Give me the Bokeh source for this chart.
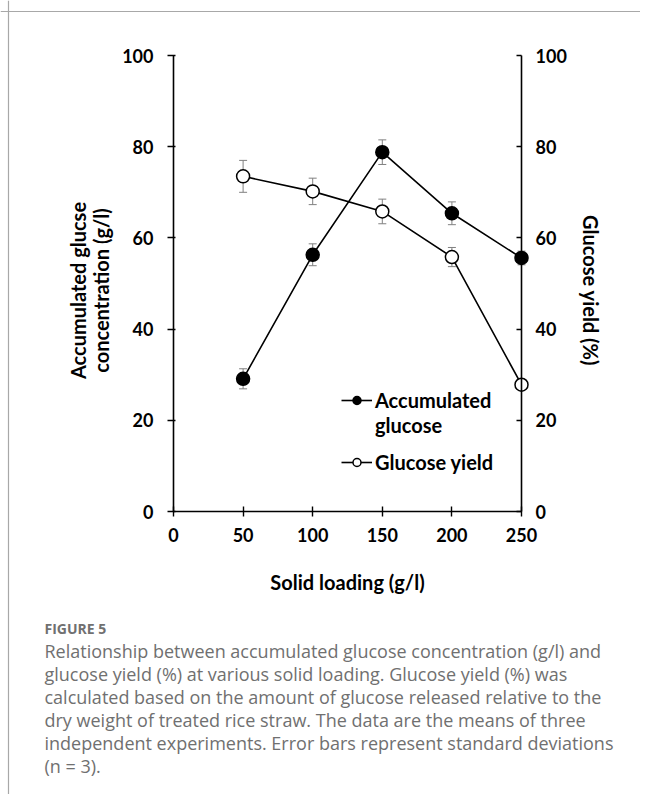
import math
from bokeh.plotting import figure
from bokeh.models import (Range1d, LinearAxis, ColumnDataSource, Whisker, TeeHead,
                          Legend, LegendItem, Label, Span, FixedTicker)
from bokeh.embed import file_html
from bokeh.resources import INLINE

# ---------------- data ----------------
solid_loading = [50, 100, 150, 200, 250]
acc_glucose = [29.1, 56.3, 78.8, 65.4, 55.6]
acc_glucose_sd = [2.2, 2.4, 2.7, 2.5, 1.5]
glucose_yield = [73.5, 70.2, 65.8, 55.8, 27.8]
glucose_yield_sd = [3.5, 2.9, 2.7, 2.1, 1.0]
x_ticks = [0, 50, 100, 150, 200, 250]
y_ticks = [0, 20, 40, 60, 80, 100]
x_lim = (0, 250)
y_lim = (0, 100)

caption_head = "FIGURE 5"
caption_lines = [
    "Relationship between accumulated glucose concentration (g/l) and",
    "glucose yield (%) at various solid loading. Glucose yield (%) was",
    "calculated based on the amount of glucose released relative to the",
    "dry weight of treated rice straw. The data are the means of three",
    "independent experiments. Error bars represent standard deviations",
    "(n = 3).",
]

FONT = "Lato"
W, H = 640, 794
# where the plotting area sits on the canvas (px)
AX_L, AX_R, AX_T, AX_B = 173, 521, 55, 511

# ranges chosen so the whole canvas is the frame (so that texts are not clipped)
sx = (AX_R - AX_L) / (x_lim[1] - x_lim[0])
sy = (AX_B - AX_T) / (y_lim[1] - y_lim[0])
xr = Range1d(x_lim[0] - AX_L / sx, x_lim[1] + (W - AX_R) / sx)
yr_ = Range1d(y_lim[0] - (H - AX_B) / sy, y_lim[1] + AX_T / sy)

p = figure(width=W, height=H, output_backend="svg", toolbar_location=None,
           x_range=xr, y_range=yr_, min_border=0,
           background_fill_color="white", border_fill_color="white")
p.title.visible = False
p.outline_line_color = None
p.grid.visible = False
p.extra_y_ranges = {"yield": Range1d(yr_.start, yr_.end)}

src_a = ColumnDataSource(dict(x=solid_loading, y=acc_glucose,
                              lo=[v - s for v, s in zip(acc_glucose, acc_glucose_sd)],
                              hi=[v + s for v, s in zip(acc_glucose, acc_glucose_sd)]))
src_y = ColumnDataSource(dict(x=solid_loading, y=glucose_yield,
                              lo=[v - s for v, s in zip(glucose_yield, glucose_yield_sd)],
                              hi=[v + s for v, s in zip(glucose_yield, glucose_yield_sd)]))

# error bars
for src, rng in ((src_a, "default"), (src_y, "yield")):
    w = Whisker(source=src, base="x", lower="lo", upper="hi",
                line_color="#808080", line_width=1, level="underlay",
                y_range_name=rng,
                upper_head=TeeHead(size=8, line_color="#808080", line_width=1),
                lower_head=TeeHead(size=8, line_color="#808080", line_width=1))
    p.add_layout(w)

la = p.line("x", "y", source=src_a, line_color="black", line_width=1.6)
sa = p.scatter("x", "y", source=src_a, size=13, fill_color="black",
               line_color="black", line_width=1.5)
ly = p.line("x", "y", source=src_y, line_color="black", line_width=1.6,
            y_range_name="yield")
sy_ = p.scatter("x", "y", source=src_y, size=13, fill_color="white",
                line_color="black", line_width=1.5, y_range_name="yield")
# invisible renderer used only as a placeholder for the legend's second text line
blank = p.line(x=[], y=[], line_alpha=0)

def style_axis(ax, tin, tout, standoff):
    ax.axis_line_color = "black"
    ax.axis_line_width = 1.6
    ax.major_tick_line_color = "black"
    ax.major_tick_line_width = 1.4
    ax.major_tick_in = tin
    ax.major_tick_out = tout
    ax.minor_tick_line_color = None
    ax.major_label_text_font = FONT
    ax.major_label_text_font_style = "bold"
    ax.major_label_text_font_size = "18px"
    ax.major_label_text_color = "black"
    ax.major_label_standoff = standoff

xa = p.xaxis[0]
xa.ticker = FixedTicker(ticks=x_ticks)
xa.fixed_location = y_lim[0]
xa.bounds = x_lim
style_axis(xa, 5, 5, 11)

ya = p.yaxis[0]
ya.ticker = FixedTicker(ticks=y_ticks)
ya.fixed_location = x_lim[0]
ya.bounds = y_lim
style_axis(ya, 2, 6, 14)

ry = LinearAxis(y_range_name="yield", ticker=FixedTicker(ticks=y_ticks),
                fixed_location=x_lim[1], bounds=y_lim)
style_axis(ry, 5, 0, 14)
p.add_layout(ry, "right")

def lab(text, px, py, **kw):
    opts = dict(x=px, y=py, x_units="canvas", y_units="canvas", text=text,
                text_baseline="middle")
    opts.update(kw)
    p.add_layout(Label(**opts))

title_kw = dict(text_font=FONT, text_font_style="bold", text_font_size="20px",
                text_color="black", text_align="center")
lab("Solid loading (g/l)", (AX_L + AX_R) / 2, 581, **title_kw)
lab("Glucose yield (%)", 590, 290, angle=-math.pi / 2, **title_kw)
lab("Accumulated glucse", 77, 290, angle=math.pi / 2, **title_kw)
lab("concentration (g/l)", 100, 290, angle=math.pi / 2, **title_kw)

# legends
leg_style = dict(orientation="vertical", label_text_font=FONT,
                 label_text_font_style="bold", label_text_font_size="20px",
                 label_text_color="black", glyph_width=31, glyph_height=20,
                 label_height=20, label_standoff=3, spacing=1, padding=0, margin=0,
                 border_line_alpha=0, background_fill_alpha=0)
leg1 = Legend(items=[LegendItem(label="Accumulated", renderers=[la, sa]),
                     LegendItem(label="glucose", renderers=[blank])],
              location=(341, H - 437), **leg_style)
leg2 = Legend(items=[LegendItem(label="Glucose yield", renderers=[ly, sy_])],
              location=(341, H - 474), **leg_style)
p.add_layout(leg1)
p.add_layout(leg2)

# grey border of the figure panel (left and top edges), placed by pixel offsets
border_x = xr.start + 8 / sx
border_y = yr_.end - 11 / sy
p.add_layout(Span(location=border_x, dimension="height", line_color="#a8a8a8",
                  line_width=1.2, level="overlay"))
p.add_layout(Span(location=border_y, dimension="width", line_color="#a8a8a8",
                  line_width=1.2, level="overlay"))

# caption
lab(caption_head, 44, 628, text_font="Open Sans", text_font_style="bold",
    text_font_size="14px", text_color="#707070")
for i, line in enumerate(caption_lines):
    lab(line, 44, 650 + i * 23, text_font="Open Sans", text_font_size="18px",
        text_color="#707070")

open("out.html", "w").write(file_html(p, INLINE))
